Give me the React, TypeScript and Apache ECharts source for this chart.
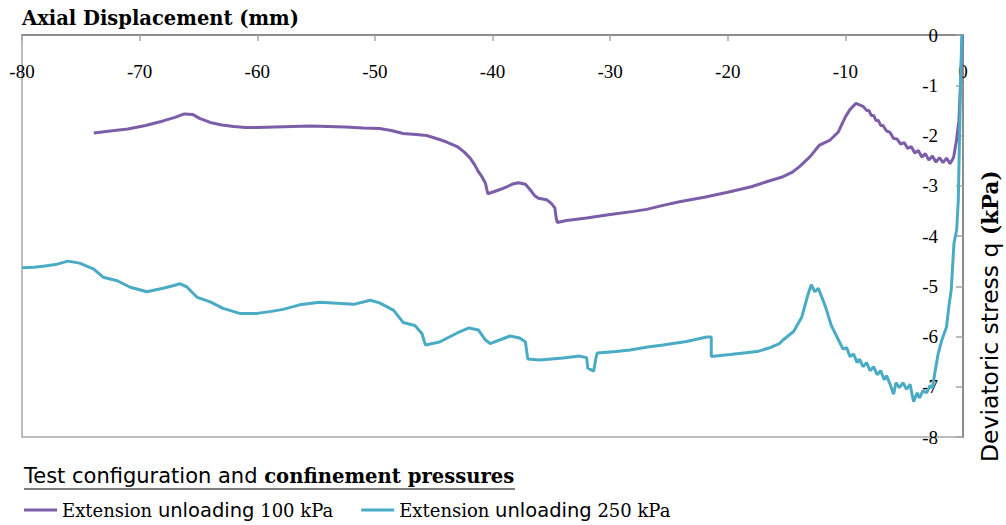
import React, { useEffect, useRef } from "react";
import * as echarts from "echarts";

// Axis ranges
const xMin = -80;
const xMax = 0;
const xStep = 10;
const yMin = -8;
const yMax = 0;
const yStep = 1;

// Series names
const seriesNames = ["Extension unloading 100 kPa", "Extension unloading 250 kPa"];

// Extension unloading 100 kPa
const purpleDisp = [
  -73.9, -72.5, -71.0, -69.5, -68.0, -67.0, -66.2, -65.5, -64.9, -64.0, -63.0, -62.0, -61.0, -60.0,
  -58.5, -57.0, -55.5, -54.0, -52.5, -51.0, -49.6, -48.6, -47.6, -46.5, -45.6, -44.5, -43.9, -43.0,
  -42.4, -41.9, -41.5, -41.2, -40.9, -40.6, -40.4, -39.9, -39.3, -38.8, -38.2, -37.8, -37.2, -36.8,
  -36.4, -36.1, -35.4, -35.0, -34.7, -34.6, -34.5, -33.7, -32.0, -30.0, -28.0, -26.9, -25.5, -24.1,
  -22.0, -20.0, -18.0, -16.7, -15.3, -14.5, -13.9, -13.0, -12.2, -11.3, -10.6, -10.3, -10.0, -9.6,
  -9.1, -8.5, -8.2, -8.0, -7.8, -7.6, -7.4, -7.2, -7.0, -6.8, -6.5, -6.2, -5.9, -5.6, -5.3, -5.0,
  -4.7, -4.4, -4.1, -3.8, -3.5, -3.2, -2.9, -2.6, -2.3, -2.0, -1.7, -1.4, -1.1, -0.8, -0.55, -0.35,
  -0.2, -0.05,
];
const purpleStress = [
  -1.95, -1.91, -1.87, -1.8, -1.71, -1.64, -1.57, -1.58, -1.66, -1.74, -1.79, -1.82, -1.84, -1.84,
  -1.83, -1.82, -1.81, -1.82, -1.83, -1.85, -1.86, -1.9, -1.96, -1.98, -2.0, -2.08, -2.13, -2.22,
  -2.33, -2.45, -2.59, -2.72, -2.82, -2.95, -3.16, -3.12, -3.07, -3.02, -2.96, -2.94, -2.97, -3.08,
  -3.2, -3.25, -3.28, -3.35, -3.44, -3.62, -3.73, -3.69, -3.64, -3.57, -3.51, -3.47, -3.39, -3.32,
  -3.23, -3.13, -3.02, -2.92, -2.82, -2.73, -2.62, -2.42, -2.19, -2.09, -1.93, -1.78, -1.63, -1.48,
  -1.36, -1.42, -1.5, -1.5, -1.6, -1.6, -1.7, -1.7, -1.8, -1.8, -1.91, -1.94, -2.06, -2.07, -2.17, -2.14,
  -2.26, -2.22, -2.35, -2.3, -2.43, -2.36, -2.49, -2.41, -2.53, -2.44, -2.54, -2.45, -2.56, -2.44, -2.09, -1.71,
  -0.91, 0,
];

// Extension unloading 250 kPa
const blueDisp = [
  -80.0, -79.0, -78.2, -77.0, -76.1, -75.1, -73.9, -73.1, -71.9, -70.8, -70.0, -69.4, -68.0, -67.0,
  -66.6, -66.0, -65.5, -65.1, -64.0, -62.9, -61.5, -60.0, -58.8, -57.8, -56.4, -54.7, -53.2, -51.8,
  -50.4, -49.6, -48.4, -47.6, -46.6, -46.0, -45.7, -44.5, -43.0, -42.0, -41.2, -40.6, -40.2, -39.4,
  -38.5, -37.7, -37.2, -37.0, -36.0, -34.0, -32.6, -32.0, -31.9, -31.4, -31.2, -31.1, -29.5, -28.3,
  -26.8, -25.5, -23.5, -21.8, -21.4, -21.4, -19.8, -17.5, -16.5, -15.6, -15.3, -14.4, -13.7, -13.2,
  -12.9, -12.6, -12.3, -11.7, -11.2, -10.5, -10.2, -9.9, -9.6, -9.3, -9.0, -8.8, -8.5, -8.2, -7.9,
  -7.6, -7.3, -7.0, -6.7, -6.5, -6.2, -5.9, -5.7, -5.4, -5.1, -4.8, -4.5, -4.2, -3.9, -3.7, -3.4,
  -3.1, -2.8, -2.6, -2.4, -2.1, -1.8, -1.4, -1.2, -1.0, -0.77, -0.54, -0.4, -0.2, -0.1,
];
const blueStress = [
  -4.63, -4.62, -4.6, -4.56, -4.5, -4.54, -4.66, -4.82, -4.89, -5.02, -5.07, -5.11, -5.04, -4.98,
  -4.95, -5.01, -5.13, -5.22, -5.31, -5.44, -5.54, -5.54, -5.5, -5.46, -5.37, -5.32, -5.34, -5.36,
  -5.28, -5.33, -5.48, -5.72, -5.78, -5.94, -6.17, -6.11, -5.93, -5.83, -5.87, -6.07, -6.14, -6.07,
  -5.99, -6.03, -6.11, -6.45, -6.47, -6.43, -6.39, -6.42, -6.63, -6.69, -6.42, -6.33, -6.3, -6.27,
  -6.21, -6.17, -6.1, -6.01, -6.01, -6.4, -6.36, -6.3, -6.23, -6.14, -6.07, -5.9, -5.61, -5.18,
  -4.97, -5.11, -5.04, -5.4, -5.78, -6.11, -6.25, -6.22, -6.4, -6.35, -6.52, -6.45, -6.6, -6.52, -6.68,
  -6.6, -6.76, -6.68, -6.86, -6.78, -6.95, -7.15, -6.92, -7.02, -6.92, -7.05, -6.95, -7.3, -7.12, -7.22, -7.08,
  -7.12, -6.98, -7.02, -6.73, -6.33, -6.07, -5.81, -5.4, -5.07, -4.15, -3.88, -3.28, -0.9, 0,
];

const zip = (xs: number[], ys: number[]) => xs.map((x, i) => [x, ys[i]]);

const SERIF = "'Liberation Serif', 'DejaVu Serif', serif";
const SERIF_WIDE = "'DejaVu Serif', serif";
const SANS = "'DejaVu Sans', sans-serif";

export default function App() {
  const ref = useRef<HTMLDivElement>(null);

  useEffect(() => {
    if (!ref.current) return;
    const chart = echarts.init(ref.current, undefined, { renderer: "svg" });
    const option: any = {
      animation: false,
      backgroundColor: "#ffffff",
      grid: {
        left: 22,
        right: 43,
        top: 35,
        bottom: 88,
        show: true,
        borderColor: "#a6a6a6",
        borderWidth: 1.5,
        backgroundColor: "transparent",
      },
      xAxis: {
        type: "value",
        position: "top",
        min: xMin,
        max: xMax,
        interval: xStep,
        axisLine: { show: true, onZero: false, lineStyle: { color: "#8c8c8c", width: 2 } },
        axisTick: { show: true, inside: true, length: 6, lineStyle: { color: "#a6a6a6", width: 1.5 } },
        axisLabel: {
          show: true,
          inside: true,
          margin: 27,
          color: "#000",
          fontFamily: SERIF,
          fontSize: 19,
          showMinLabel: true,
          showMaxLabel: true,
        },
        splitLine: { show: false },
      },
      yAxis: {
        type: "value",
        position: "right",
        min: yMin,
        max: yMax,
        interval: yStep,
        axisLine: { show: true, onZero: false, lineStyle: { color: "#8c8c8c", width: 2 } },
        axisTick: { show: true, inside: true, length: 7, lineStyle: { color: "#a6a6a6", width: 1.5 } },
        axisLabel: {
          show: true,
          inside: true,
          margin: 25,
          color: "#000",
          fontFamily: SERIF,
          fontSize: 19,
          showMinLabel: true,
          showMaxLabel: true,
        },
        splitLine: { show: false },
      },
      legend: {
        left: 24,
        top: 500,
        padding: 0,
        icon: "rect",
        itemWidth: 33,
        itemHeight: 3,
        itemGap: 28,
        data: seriesNames,
        formatter: (name: string) => {
          const rest = name.replace("Extension unloading", "").trim();
          return `{s|Extension }{u|unloading}{s| ${rest}}`;
        },
        textStyle: {
          color: "#000",
          rich: {
            s: { fontFamily: SERIF_WIDE, fontSize: 18, color: "#000" },
            u: { fontFamily: SANS, fontSize: 19.5, color: "#000" },
          },
        },
      },
      graphic: [
        {
          type: "text",
          left: 22,
          top: 8,
          style: {
            text: "Axial Displacement (mm)",
            font: `bold 19.5px ${SERIF_WIDE}`,
            fill: "#000",
          },
        },
        {
          type: "text",
          x: 990,
          y: 462,
          rotation: Math.PI / 2,
          style: {
            text: "{a|Deviatoric stress q }{b|(kPa)}",
            textAlign: "left",
            textVerticalAlign: "middle",
            rich: {
              a: { fontFamily: SANS, fontSize: 23.5, fill: "#000", color: "#000" },
              b: { fontFamily: SERIF_WIDE, fontWeight: "bold", fontSize: 21.5, fill: "#000", color: "#000" },
            },
          },
        },
        {
          type: "text",
          x: 24,
          y: 476,
          style: {
            text: "{a|Test configuration and }{b|confinement pressures}",
            textAlign: "left",
            textVerticalAlign: "middle",
            rich: {
              a: { fontFamily: SANS, fontSize: 21, fill: "#000", color: "#000" },
              b: { fontFamily: SERIF_WIDE, fontWeight: "bold", fontSize: 19.6, fill: "#000", color: "#000" },
            },
          },
        },
        {
          type: "line",
          shape: { x1: 24, y1: 489, x2: 515, y2: 489 },
          style: { stroke: "#000", lineWidth: 1.2 },
        },
      ],
      series: [
        {
          name: seriesNames[0],
          type: "line",
          data: zip(purpleDisp, purpleStress),
          showSymbol: false,
          symbol: "none",
          lineStyle: { color: "#7b5ea7", width: 3 },
          itemStyle: { color: "#7b5ea7" },
          clip: false,
        },
        {
          name: seriesNames[1],
          type: "line",
          data: zip(blueDisp, blueStress),
          showSymbol: false,
          symbol: "none",
          lineStyle: { color: "#4aabc5", width: 3 },
          itemStyle: { color: "#4aabc5" },
          clip: false,
        },
      ],
    };
    chart.setOption(option);
    return () => chart.dispose();
  }, []);

  return (
    <div
      ref={ref}
      style={{ position: "fixed", left: 0, top: 0, width: 1006, height: 525, background: "#fff" }}
    />
  );
}
